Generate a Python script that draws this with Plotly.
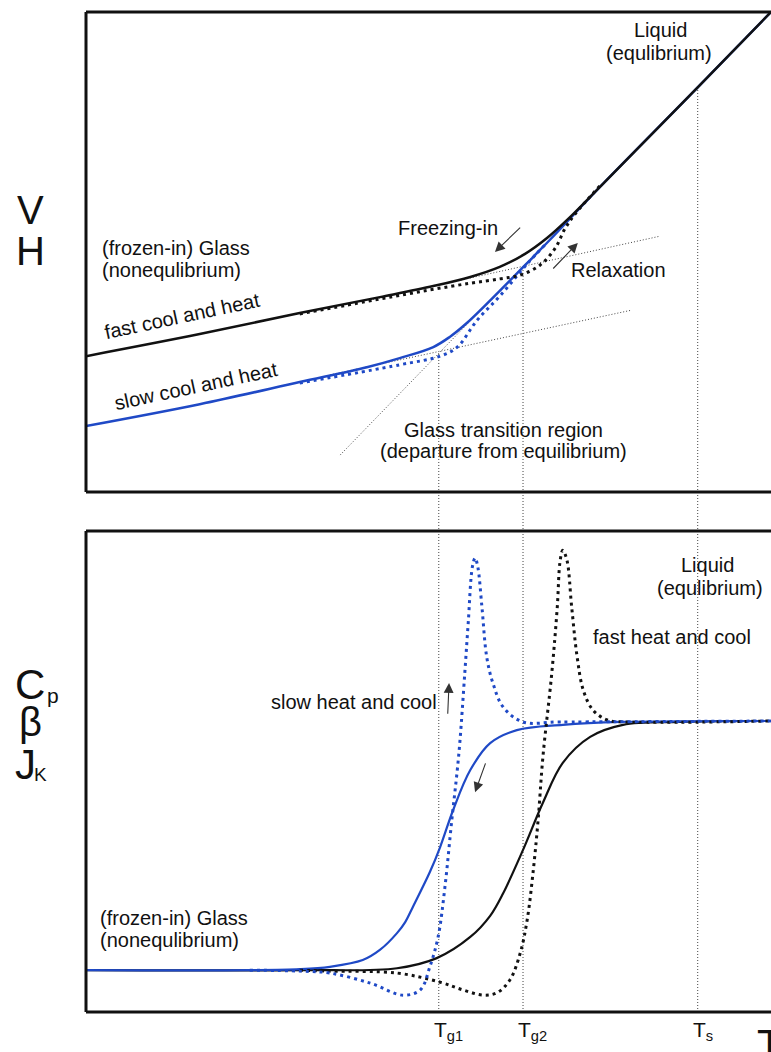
import plotly.graph_objects as go

# ---------------------------------------------------------------
# Glass transition schematic: V/H and Cp/beta/J_K versus T
# (arbitrary units on every axis)
# ---------------------------------------------------------------

# characteristic temperatures
T_G1 = 51.5
T_G2 = 63.8
T_S = 89.3

# --- upper panel: volume / enthalpy -------------------------------
fast_cool_T = [0, 16.6, 31.2, 42.9, 50.7, 56.1, 60.4, 64.1, 67.3, 70.7, 75.0, 89.3, 100]
fast_cool_H = [28.3, 32.9, 37.3, 40.6, 42.9, 44.8, 46.9, 49.6, 52.9, 57.3, 63.5, 84.3, 100]

fast_heat_T = [31.2, 42.9, 50.2, 56.1, 60.4, 63.4, 66.3, 68.5, 69.9, 71.4, 75.0]
fast_heat_H = [37.1, 40.2, 42.1, 43.5, 44.4, 45.2, 47.3, 50.8, 54.8, 57.9, 63.75]

slow_cool_T = [0, 16.6, 31.2, 41.0, 45.8, 50.7, 53.1, 55.6, 60.4, 65.3, 67.7, 75.0, 89.3, 100]
slow_cool_H = [13.75, 18.3, 22.9, 26.0, 27.9, 30.2, 32.3, 35.2, 41.9, 49.0, 52.5, 63.5, 84.3, 100]

slow_heat_T = [31.2, 45.8, 51.7, 54.2, 57.1, 60.4, 64.4, 67.0]
slow_heat_H = [22.7, 26.5, 28.3, 30.2, 35.8, 40.8, 47.5, 51.5]

# extrapolated glass and liquid lines
fast_glass_ext_T = [41.5, 83.8]
fast_glass_ext_H = [40.0, 53.3]
slow_glass_ext_T = [35.6, 79.7]
slow_glass_ext_H = [24.4, 37.9]
liquid_ext_T = [37.1, 67.0]
liquid_ext_H = [7.7, 51.7]

# heights where the temperature markers start
T_G1_H = 29.0
T_G2_H = 46.25
T_S_H = 84.3

# --- lower panel: Cp / beta / J_K ---------------------------------
slow_cool_cp_T = [0, 23.9, 31.2, 35.6, 40.4, 42.9, 45.4, 46.6, 47.7, 50.2, 51.7, 53.6,
                  56.1, 59.0, 62.9, 69.6, 78.0, 100]
slow_cool_cp = [8.7, 8.7, 8.9, 9.4, 10.8, 12.9, 16.4, 18.7, 21.8, 29.1, 34.3, 42.0,
                50.3, 55.9, 58.6, 59.7, 60.3, 60.5]

fast_cool_cp_T = [0, 31.2, 45.4, 51.2, 56.1, 59.0, 60.9, 63.8, 66.7, 69.6, 73.6, 78.4, 86.7, 100]
fast_cool_cp = [8.7, 8.7, 9.1, 11.2, 15.6, 20.0, 24.7, 33.7, 43.5, 51.8, 57.2, 59.7, 60.3, 60.5]

slow_heat_cp_T = [23.9, 31.2, 35.6, 41.5, 46.3, 48.8, 50.2, 51.4, 52.4, 53.4, 54.2, 54.6,
                  55.3, 55.8, 56.4, 56.8, 57.2, 57.8, 58.5, 59.4, 60.9, 63.8, 69.2, 100]
slow_heat_cp = [8.7, 8.5, 8.1, 6.0, 3.5, 4.6, 9.4, 15.6, 26.0, 39.9, 50.3, 56.5,
                70.5, 80.9, 92.5, 94.4, 92.5, 84.2, 73.8, 68.4, 63.4, 60.3, 60.3, 60.5]

fast_heat_cp_T = [31.2, 35.6, 45.4, 51.7, 55.0, 58.0, 60.0, 61.9, 63.4, 64.4, 65.3, 66.0,
                  66.7, 68.0, 68.8, 69.2, 69.6, 70.2, 70.9, 71.7, 72.6, 74.0, 76.1, 79.0, 100]
fast_heat_cp = [8.7, 8.5, 8.1, 6.2, 4.6, 3.5, 4.0, 6.7, 12.3, 19.1, 29.5, 39.9,
                53.0, 70.5, 84.2, 93.6, 96.0, 94.0, 84.2, 73.8, 66.9, 62.8, 60.7, 60.3, 60.5]

# ---------------------------------------------------------------
W, HGT = 771, 1052
X_DOM = [86 / W, 1.0]
TOP_DOM = [1 - 492 / HGT, 1 - 12 / HGT]
BOT_DOM = [1 - 1012 / HGT, 1 - 531 / HGT]
T_RANGE = [0, 100]
H_RANGE = [0, 100]
CP_RANGE = [0, 100]

BLACK = "#111111"
BLUE = "#1f49c6"
THIN = "#444444"
FONT = "Liberation Sans, Arial, Helvetica, sans-serif"


def px(x):
    return x / W


def py(y):
    return 1 - y / HGT


def t_paper(t):
    return X_DOM[0] + (t - T_RANGE[0]) / (T_RANGE[1] - T_RANGE[0]) * (X_DOM[1] - X_DOM[0])


def h_paper(h):
    return TOP_DOM[0] + (h - H_RANGE[0]) / (H_RANGE[1] - H_RANGE[0]) * (TOP_DOM[1] - TOP_DOM[0])


fig = go.Figure()


def curve(x, y, color, width, dash="solid", yaxis="y"):
    fig.add_trace(go.Scatter(
        x=x, y=y, mode="lines", yaxis=yaxis, xaxis="x",
        line=dict(color=color, width=width, dash=dash, shape="spline", smoothing=1.0),
        hoverinfo="skip", showlegend=False, cliponaxis=True))


def straight(x, y, yaxis="y"):
    fig.add_trace(go.Scatter(
        x=x, y=y, mode="lines", yaxis=yaxis, xaxis="x",
        line=dict(color=THIN, width=1, dash="1px,2px"),
        hoverinfo="skip", showlegend=False))


DOT = "3px,4px"

# upper panel
straight(fast_glass_ext_T, fast_glass_ext_H)
straight(slow_glass_ext_T, slow_glass_ext_H)
straight(liquid_ext_T, liquid_ext_H)
curve(slow_cool_T, slow_cool_H, BLUE, 2.5)
curve(fast_cool_T, fast_cool_H, BLACK, 2.5)
curve(slow_heat_T, slow_heat_H, BLUE, 3, DOT)
curve(fast_heat_T, fast_heat_H, BLACK, 3, DOT)

# lower panel
curve(fast_cool_cp_T, fast_cool_cp, BLACK, 2.2, yaxis="y2")
curve(slow_cool_cp_T, slow_cool_cp, BLUE, 2.2, yaxis="y2")
curve(fast_heat_cp_T, fast_heat_cp, BLACK, 3, DOT, yaxis="y2")
curve(slow_heat_cp_T, slow_heat_cp, BLUE, 3, DOT, yaxis="y2")

shapes = []
# temperature markers running through both panels
for t, h in [(T_G1, T_G1_H), (T_G2, T_G2_H), (T_S, T_S_H)]:
    shapes.append(dict(type="line", xref="paper", yref="paper",
                       x0=t_paper(t), x1=t_paper(t), y0=BOT_DOM[0], y1=h_paper(h),
                       line=dict(color=THIN, width=1, dash="1px,2px"), layer="below"))

# panel frames (open on the right)
for dom in (TOP_DOM, BOT_DOM):
    for seg in ((X_DOM[0], dom[0], 1.02, dom[0]),
                (X_DOM[0], dom[1], 1.02, dom[1]),
                (X_DOM[0], dom[0], X_DOM[0], dom[1])):
        shapes.append(dict(type="line", xref="paper", yref="paper",
                           x0=seg[0], y0=seg[1], x1=seg[2], y1=seg[3],
                           line=dict(color=BLACK, width=3)))

ann = []


def label(text, x, y, xref="x", yref="y", size=20, xanchor="center", angle=0, xshift=0):
    ann.append(dict(text=text, x=x, y=y, xref=xref, yref=yref, showarrow=False,
                    font=dict(family=FONT, size=size, color="#111111"),
                    xanchor=xanchor, yanchor="middle", textangle=angle, xshift=xshift))


def arrow(x0, y0, x1, y1, yref="y"):
    ann.append(dict(text="", x=x1, y=y1, ax=x0, ay=y0, xref="x", yref=yref,
                    axref="x", ayref=yref, showarrow=True, arrowhead=2,
                    arrowsize=1.8, arrowwidth=1.1, arrowcolor="#333333"))


# upper panel text
label("Liquid", 83.8, 96.25)
label("(equlibrium)", 83.6, 91.5)
label("(frozen-in) Glass", 2.0, 50.8, xanchor="left")
label("(nonequlibrium)", 2.0, 46.25, xanchor="left")
label("Freezing-in", 52.8, 55.0)
label("Relaxation", 77.7, 46.25)
label("fast cool and heat", 14.0, 36.7, angle=-12)
label("slow cool and heat", 16.1, 22.1, angle=-12)
label("Glass transition region", 60.9, 12.9)
label("(departure from equilibrium)", 60.9, 8.5)
arrow(63.6, 55.4, 59.7, 50.0)
arrow(68.0, 46.25, 71.8, 51.9)

# lower panel text
label("Liquid", 90.7, 92.9, yref="y2")
label("(equlibrium)", 91.1, 88.1, yref="y2")
label("fast heat and cool", 85.5, 78.0, yref="y2")
label("slow heat and cool", 39.1, 64.4, yref="y2")
label("(frozen-in) Glass", 1.75, 19.5, yref="y2", xanchor="left")
label("(nonequlibrium)", 1.75, 15.0, yref="y2", xanchor="left")
arrow(52.8, 61.7, 53.0, 68.4, yref="y2")
arrow(58.4, 52.0, 56.8, 45.7, yref="y2")

# temperature tick labels
for t, sub in [(T_G1, "g1"), (T_G2, "g2"), (T_S, "s")]:
    label(f"T<sub>{sub}</sub>", t, py(1031), yref="paper", size=21,
          xanchor="left", xshift=-7)
label("T", px(755), py(1044), xref="paper", yref="paper", size=42, xanchor="left")

# axis quantity labels
label("V", px(30), py(210), xref="paper", yref="paper", size=40)
label("H", px(30), py(251), xref="paper", yref="paper", size=40)
label("C", px(13), py(684), xref="paper", yref="paper", size=42, xanchor="left")
label("p", px(53), py(695), xref="paper", yref="paper", size=21)
label("β", px(30), py(722), xref="paper", yref="paper", size=40)
label("J", px(13), py(764), xref="paper", yref="paper", size=42, xanchor="left")
label("K", px(40), py(774), xref="paper", yref="paper", size=19)

hidden = dict(visible=False, showgrid=False, zeroline=False, fixedrange=True)
fig.update_layout(
    width=W, height=HGT,
    margin=dict(l=0, r=0, t=0, b=0),
    paper_bgcolor="white", plot_bgcolor="white",
    xaxis=dict(domain=X_DOM, range=T_RANGE, **hidden),
    yaxis=dict(domain=TOP_DOM, range=H_RANGE, **hidden),
    yaxis2=dict(domain=BOT_DOM, range=CP_RANGE, anchor="x", **hidden),
    shapes=shapes, annotations=ann, showlegend=False,
)

fig.write_html("out.html")
